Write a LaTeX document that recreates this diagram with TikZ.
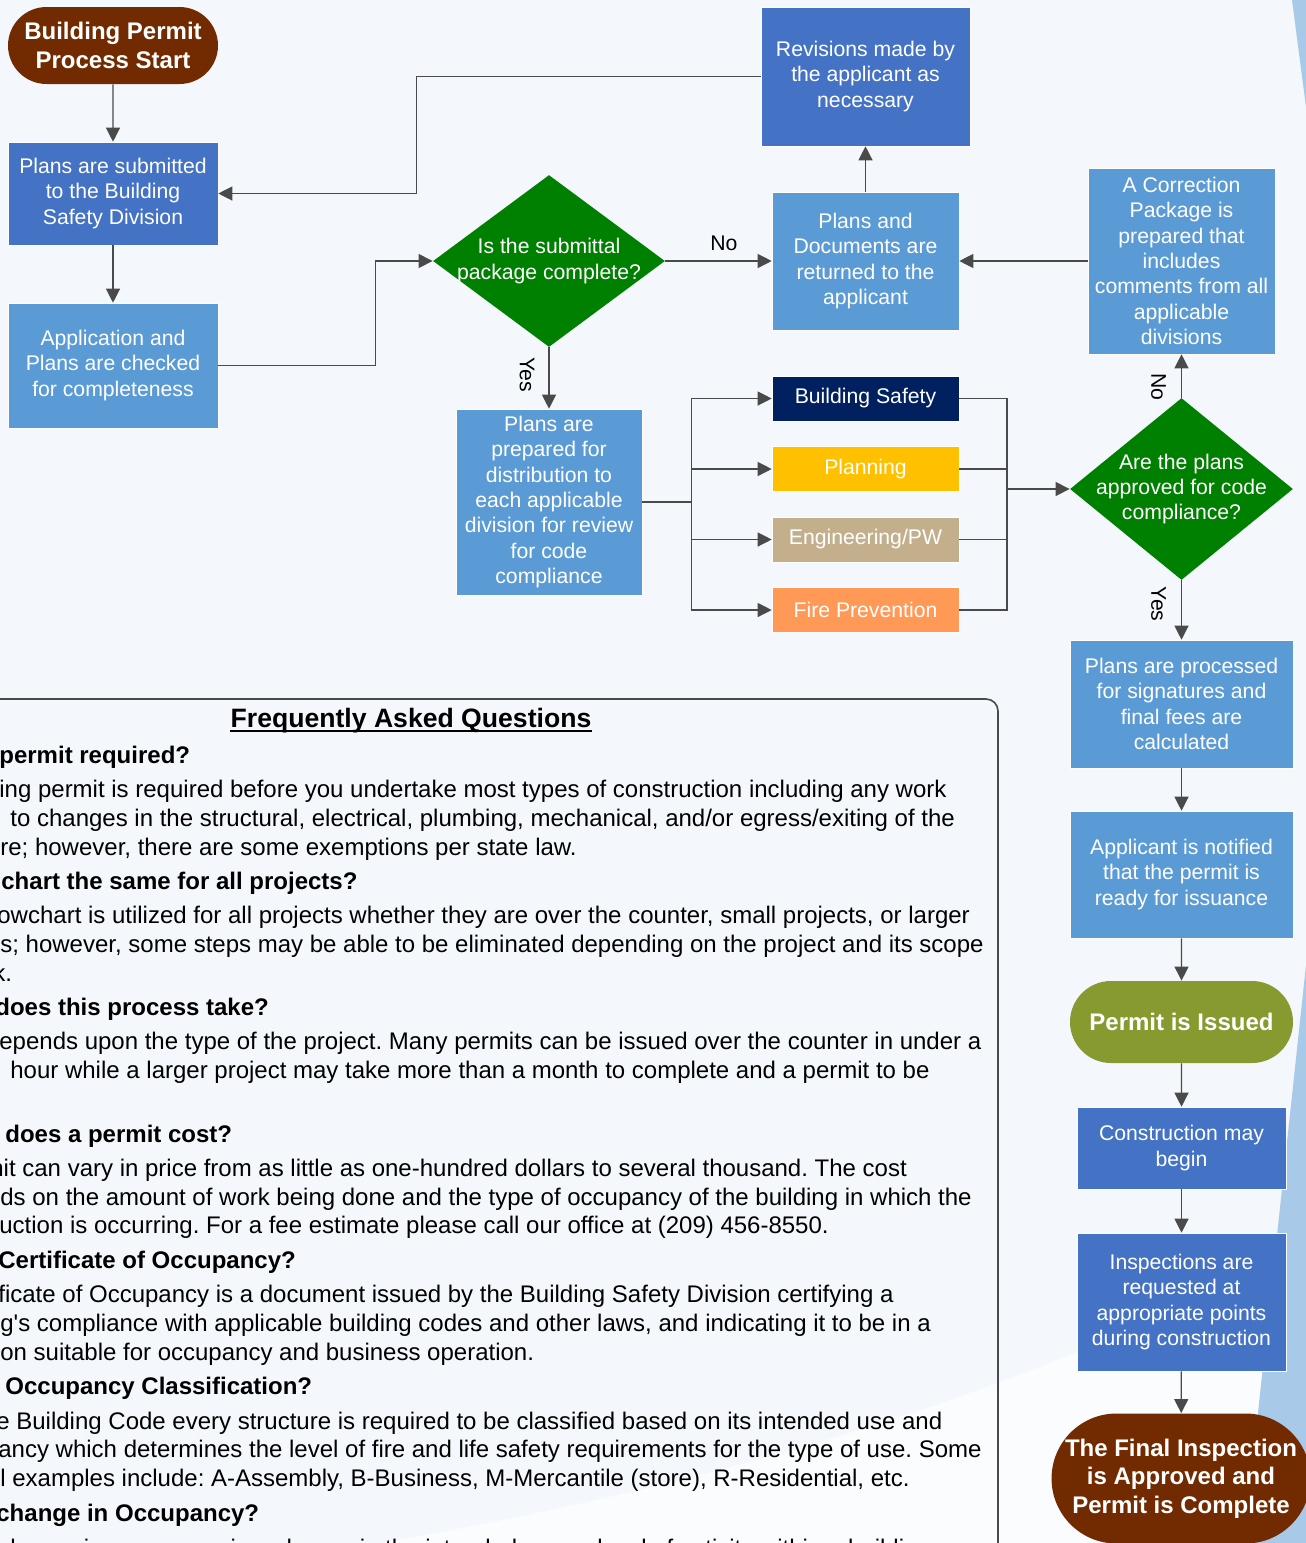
\documentclass[tikz,border=0pt]{standalone}
\usepackage{fontspec}
\setmainfont{Liberation Sans}
\usetikzlibrary{shapes.geometric,shapes.misc,arrows.meta}
\frenchspacing

\definecolor{bgcol}{HTML}{F4F8FC}
\definecolor{bgwhite}{HTML}{FAFCFE}
\definecolor{wedge}{HTML}{A9C9E8}
\definecolor{startbrown}{HTML}{722B00}
\definecolor{blueA}{HTML}{4472C4}
\definecolor{blueB}{HTML}{5B9BD5}
\definecolor{decgreen}{HTML}{008000}
\definecolor{navy}{HTML}{002060}
\definecolor{gold}{HTML}{FFC000}
\definecolor{tan}{HTML}{C4AF8D}
\definecolor{peach}{HTML}{FF9955}
\definecolor{issuedolive}{HTML}{869A30}
\definecolor{linegray}{HTML}{4A4A4A}

\tikzset{
  boxtext/.style={font=\fontsize{10.6}{12.7}\selectfont, text=white, align=center},
  procbox/.style={rectangle, boxtext, inner sep=0pt, draw=white, line width=0.3pt},
  divbox/.style={procbox, minimum width=93.5pt, minimum height=22.5pt},
  terminal/.style={rounded rectangle, inner sep=0pt, text=white, align=center, font=\bfseries\fontsize{12}{14.2}\selectfont},
  decision/.style={diamond, fill=decgreen, inner sep=0pt},
  conn/.style={draw=linegray, line width=0.6pt},
  arr/.style={conn, -{Triangle[length=7pt,width=7pt]}},
  edgelbl/.style={font=\fontsize{10.6}{12.7}\selectfont, text=black, inner sep=0pt},
  faqtxt/.style={anchor=base west, inner sep=0pt, font=\fontsize{12}{14.5}\selectfont, text=black},
  faqhead/.style={faqtxt, font=\bfseries\fontsize{12}{14.5}\selectfont},
}

\begin{document}
\begin{tikzpicture}[x=0.5pt,y=-0.5pt]
% page and backdrop
\fill[bgcol] (0,0) rectangle (1306,1543);
\useasboundingbox (0,0) rectangle (1306,1543);
\fill[bgwhite] (380,1543) .. controls (800,1470) and (1100,1360) .. (1306,1240) -- (1306,1543) -- cycle;
\fill[wedge] (1292,0) -- (1306,107) -- (1306,0) -- cycle;
\fill[wedge] (1306,965) -- (1244,1543) -- (1306,1543) -- cycle;

% left column
\node[terminal, fill=startbrown, minimum width=105pt, minimum height=38.5pt] (start) at (113,45.5) {Building Permit\\Process Start};
\node[procbox, fill=blueA, minimum width=105pt, minimum height=51.5pt] (submit) at (113,193.5) {Plans are submitted\\to the Building\\Safety Division};
\node[procbox, fill=blueB, minimum width=105pt, minimum height=62.5pt] (check) at (113,365.5) {Application and\\Plans are checked\\for completeness};

% first decision and the loop back
\node[decision, minimum width=116pt, minimum height=86pt, label={[boxtext]center:Is the submittal\\package complete?}] (complete) at (549,261) {};
\node[procbox, fill=blueB, minimum width=93.5pt, minimum height=69pt] (returned) at (865.5,261) {Plans and\\Documents are\\returned to the\\applicant};
\node[procbox, fill=blueA, minimum width=104.5pt, minimum height=69.5pt] (revise) at (865.5,76.5) {Revisions made by\\the applicant as\\necessary};
\node[procbox, fill=blueB, minimum width=93.5pt, minimum height=93pt] (correct) at (1181.5,261) {A Correction\\Package is\\prepared that\\includes\\comments from all\\applicable\\divisions};

% distribution to the divisions
\node[procbox, fill=blueB, minimum width=93pt, minimum height=93pt] (distrib) at (549,502) {Plans are\\prepared for\\distribution to\\each applicable\\division for review\\for code\\compliance};
\node[divbox, fill=navy] (bsafety) at (865.5,398.5) {Building Safety};
\node[divbox, fill=gold] (planning) at (865.5,469) {Planning};
\node[divbox, fill=tan] (engin) at (865.5,539.5) {Engineering/PW};
\node[divbox, fill=peach] (fire) at (865.5,610) {Fire Prevention};
\node[decision, minimum width=111.5pt, minimum height=91pt, label={[boxtext]center:Are the plans\\approved for code\\compliance?}] (approved) at (1181.5,489) {};

% right column
\node[procbox, fill=blueB, minimum width=111.5pt, minimum height=64pt] (fees) at (1181.5,704) {Plans are processed\\for signatures and\\final fees are\\calculated};
\node[procbox, fill=blueB, minimum width=111.5pt, minimum height=63.5pt] (notify) at (1181.5,874.5) {Applicant is notified\\that the permit is\\ready for issuance};
\node[terminal, fill=issuedolive, minimum width=111.5pt, minimum height=41pt] (issued) at (1181.5,1022) {Permit is Issued};
\node[procbox, fill=blueA, minimum width=104.5pt, minimum height=41pt] (build) at (1181.5,1148) {Construction may\\begin};
\node[procbox, fill=blueA, minimum width=104.5pt, minimum height=69pt] (inspect) at (1181.5,1302) {Inspections are\\requested at\\appropriate points\\during construction};
\node[terminal, fill=startbrown, minimum width=127pt, minimum height=65pt] (final) at (1181,1478.5) {The Final Inspection\\is Approved and\\Permit is Complete};

% connectors
\draw[arr] (start) -- (submit);
\draw[arr] (submit) -- (check);
\draw[arr] (check.east) -- ++(157,0) |- (complete.west);
\draw[arr] (complete.east) -- node[edgelbl, pos=0.55, above=5pt] {No} (returned.west);
\draw[arr] (returned) -- (revise);
\draw[arr] (revise.west) -- ++(-344,0) |- (submit.east);
\draw[arr] (correct.west) -- (returned.east);
\draw[arr] (complete.south) -- node[edgelbl, pos=0.45, xshift=-11pt, rotate=-90] {Yes} (distrib.north);
\draw[conn] (distrib.east) -- ++(49,0) coordinate (split);
\foreach \dv in {bsafety,planning,engin,fire}
  \draw[arr] (split) |- (\dv.west);
\coordinate (merge) at (1007,489);
\foreach \dv in {bsafety,planning,engin,fire}
  \draw[conn] (\dv.east) -| (merge);
\draw[arr] (merge) -- (approved.west);
\draw[arr] (approved.north) -- node[edgelbl, pos=0.25, xshift=-11.5pt, rotate=-90] {No} (correct.south);
\draw[arr] (approved.south) -- node[edgelbl, pos=0.4, xshift=-11.5pt, rotate=-90] {Yes} (fees.north);
\draw[arr] (fees) -- (notify);
\draw[arr] (notify) -- (issued);
\draw[arr] (issued) -- (build);
\draw[arr] (build) -- (inspect);
\draw[arr] (inspect) -- (final);

% FAQ panel
\draw[draw=linegray, line width=0.8pt, rounded corners=6pt] (-20,699) -| (998,1560);
\node[faqhead, anchor=base, font=\bfseries\fontsize{13.3}{16}\selectfont] (faqtitle) at (411,727) {Frequently Asked Questions};
\draw[line width=1pt] ([yshift=-2.2pt]faqtitle.base west) -- ([yshift=-2.2pt]faqtitle.base east);
\node[faqhead] (q1) at (-1,763) {permit required?};
\node[faqtxt] (a1) at (-1,797) {ing permit is required before you undertake most types of construction including any work};
\node[faqtxt] (a2) at (10,826) {to changes in the structural, electrical, plumbing, mechanical, and/or egress/exiting of the};
\node[faqtxt] (a3) at (0,855) {re; however, there are some exemptions per state law.};
\node[faqhead] (q2) at (1,889) {chart the same for all projects?};
\node[faqtxt] (a4) at (-3,923) {owchart is utilized for all projects whether they are over the counter, small projects, or larger};
\node[faqtxt] (a5) at (0,952) {s; however, some steps may be able to be eliminated depending on the project and its scope};
\node[faqtxt] (a6) at (-7,981) {k.};
\node[faqhead] (q3) at (-5,1015) {does this process take?};
\node[faqtxt] (a7) at (-1,1049) {epends upon the type of the project. Many permits can be issued over the counter in under a};
\node[faqtxt] (a8) at (10,1078) {hour while a larger project may take more than a month to complete and a permit to be};
\node[faqhead] (q4) at (5,1142) {does a permit cost?};
\node[faqtxt] (a9) at (-10,1176) {nit can vary in price from as little as one-hundred dollars to several thousand. The cost};
\node[faqtxt] (a10) at (0,1205) {ds on the amount of work being done and the type of occupancy of the building in which the};
\node[faqtxt] (a11) at (-1,1233) {uction is occurring. For a fee estimate please call our office at (209) 456-8550.};
\node[faqhead] (q5) at (-2,1268) {Certificate of Occupancy?};
\node[faqtxt] (a12) at (-2,1302) {ficate of Occupancy is a document issued by the Building Safety Division certifying a};
\node[faqtxt] (a13) at (0,1331) {g\textquotesingle s compliance with applicable building codes and other laws, and indicating it to be in a};
\node[faqtxt] (a14) at (0,1360) {on suitable for occupancy and business operation.};
\node[faqhead] (q6) at (5,1394) {Occupancy Classification?};
\node[faqtxt] (a15) at (-4,1429) {e Building Code every structure is required to be classified based on its intended use and};
\node[faqtxt] (a16) at (-2,1457) {ancy which determines the level of fire and life safety requirements for the type of use. Some};
\node[faqtxt] (a17) at (0,1486) {l examples include: A-Assembly, B-Business, M-Mercantile (store), R-Residential, etc.};
\node[faqhead] (q7) at (-4,1521) {change in Occupancy?};
\node[faqtxt] (a18) at (-2,1556) {change in occupancy is a change in the intended use or level of activity within a building};
\end{tikzpicture}
\end{document}
